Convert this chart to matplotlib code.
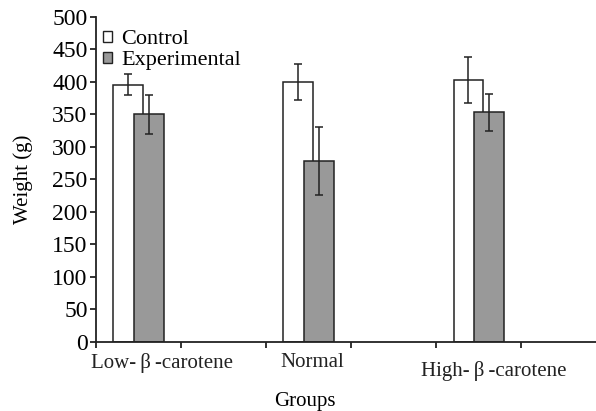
import numpy as np
import matplotlib
matplotlib.use('Agg')
import matplotlib.pyplot as plt
from matplotlib.patches import Patch

plt.rcParams['font.family'] = ['Liberation Serif', 'DejaVu Serif']

groups = ['Low-\u2009\u03b2\u2009-carotene', 'Normal', 'High-\u2009\u03b2\u2009-carotene']
control = [396, 400, 403]
control_err = [16, 28, 36]
experimental = [350, 278, 353]
experimental_err = [30, 52, 29]

pos = np.array([0.5, 2.5, 4.5])
w = 0.35
off = 0.12
edge = '#222222'

fig = plt.figure(figsize=(5.96, 4.11), dpi=100)
ax = fig.add_axes([0.161, 0.1686, 0.839, 0.79])

ax.bar(pos - off, control, w, color='white', edgecolor=edge, linewidth=1.1,
       yerr=control_err, capsize=3, error_kw=dict(elinewidth=1.1, capthick=1.1, ecolor=edge))
ax.bar(pos + off, experimental, w, color='#999999', edgecolor=edge, linewidth=1.1,
       yerr=experimental_err, capsize=3, error_kw=dict(elinewidth=1.1, capthick=1.1, ecolor=edge))

ax.set_xlim(0, 5.88)
ax.set_ylim(0, 500)
ax.set_yticks(range(0, 501, 50))
ax.set_xticks(range(0, 6))
ax.set_xticklabels([])
for x, lab, dy in zip([0.78, 2.54, 4.68], groups, [-8, -8, -14]):
    ax.annotate(lab, (x, 0), xycoords=('data', 'axes fraction'),
                xytext=(0, dy), textcoords='offset points',
                ha='center', va='top', fontsize=15, color='#222222')

for s in ['top', 'right']:
    ax.spines[s].set_visible(False)
for s in ['left', 'bottom']:
    ax.spines[s].set_linewidth(1.3)
    ax.spines[s].set_color('#222222')
ax.tick_params(axis='both', width=1.3, length=4, color='#222222')
ax.tick_params(axis='y', labelsize=17, pad=2)

ax.set_ylabel('Weight (g)', fontsize=15, labelpad=14)
fig.text(305 / 596, 1 - 392 / 411, 'Groups', ha='center', va='top', fontsize=15)

handles = [Patch(facecolor='white', edgecolor=edge, linewidth=1.0, label='Control'),
           Patch(facecolor='#999999', edgecolor=edge, linewidth=1.0, label='Experimental')]
ax.legend(handles=handles, loc='upper left', bbox_to_anchor=(-0.012, 1.0), frameon=False,
          fontsize=16, handlelength=0.4, handleheight=0.4, handletextpad=0.4,
          labelspacing=0.08, borderaxespad=0.2)

fig.savefig('out.png', dpi=100)
